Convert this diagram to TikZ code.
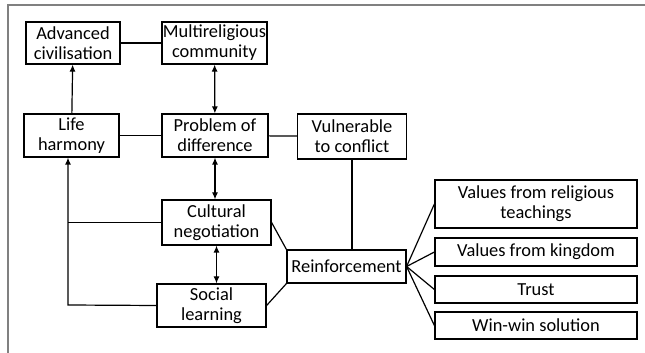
\documentclass[tikz,border=0pt]{standalone}
\usepackage{fontspec}
\setmainfont{Carlito}
\usetikzlibrary{arrows.meta}
\tikzset{>={Latex[length=3.5pt,width=3pt]}}
\tikzset{box/.style = {shape=rectangle,draw,line width=0.6pt,align=center,inner sep=0pt,
    font=\fontsize{9.2}{10}\selectfont}}
\tikzset{link/.style = {line width=0.6pt}}

\begin{document}
\begin{tikzpicture}[x=0.5pt,y=-0.5pt]
                \useasboundingbox (0,0) rectangle (645,353);
                \draw[gray,line width=1pt] (8,353) -- (8,5) -- (645,5);

                \node[box,minimum width=47pt,minimum height=21pt] (civ) at (73,43) {Advanced\\civilisation};
                \node[box,minimum width=52.5pt,minimum height=21pt] (multi) at (214.5,43) {Multireligious\\community};
                \node[box,minimum width=47.5pt,minimum height=21.5pt] (life) at (71.5,135.5) {Life\\harmony};
                \node[box,minimum width=53pt,minimum height=21.5pt] (prob) at (215,135.5) {Problem of\\difference};
                \node[box,minimum width=54.5pt,minimum height=22.5pt] (vuln) at (352,136.5) {Vulnerable\\to conflict};
                \node[box,minimum width=54.5pt,minimum height=22.5pt] (cult) at (216.5,222.5) {Cultural\\negotiation};
                \node[box,minimum width=54.5pt,minimum height=21.5pt] (soc) at (211.5,305.5) {Social\\learning};
                \node[box,minimum width=59.5pt,minimum height=16.5pt] (reinf) at (346.5,266.5) {Reinforcement};

                \node[box,minimum width=101pt,minimum height=24pt] (relig) at (536,204) {Values from religious\\teachings};
                \node[box,minimum width=101pt,minimum height=14pt] (king) at (536,252) {Values from kingdom};
                \node[box,minimum width=101pt,minimum height=13.5pt] (trust) at (536,289.5) {Trust};
                \node[box,minimum width=101pt,minimum height=13.5pt] (win) at (536,325.5) {Win-win solution};

                \coordinate (back) at (68,305);

                \draw[link] (civ) -- (multi);
                \draw[link,<->] (multi) -- (prob);
                \draw[link,->] (life) -- (civ);
                \draw[link] (life) -- (prob);
                \draw[link] (prob) -- (vuln);
                \draw[link,<->] (prob) -- (prob |- cult.north);
                \draw[link,<->] (cult.south) -- (cult.south |- soc.north);
                \draw[link,->] (soc.west) -- (back) -- (back |- life.south);
                \draw[link] (cult.west) -- (cult.west -| back);
                \draw[link] (cult.east) -- (reinf.north west);
                \draw[link] (soc.east) -- (reinf.south west);
                \draw[link] (vuln.south) -- (vuln.south |- reinf.north);
                \draw[link] (reinf.east) -- (relig.west);
                \draw[link] (reinf.east) -- (king.west);
                \draw[link] (reinf.east) -- (trust.west);
                \draw[link] (reinf.east) -- (win.west);
            \end{tikzpicture}
\end{document}
